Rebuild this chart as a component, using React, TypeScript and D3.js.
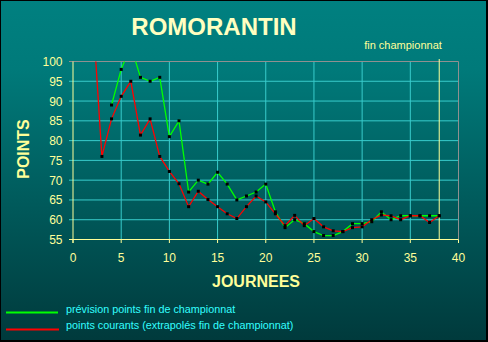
import React from "react";
import * as d3 from "d3";

const journees = d3.range(1, 39);
const prevision: (number | null)[] = [
  null, null, null, 89, 98, 104, 96, 95, 96, 81, 85, 67, 70, 69, 72, 69, 65, 66, 67, 69,
  62, 58, 60, 59, 57, 56, 56, 57, 59, 59, 59.5, 62, 60, 61, 61, 61, 61, 61,
];
const courants: (number | null)[] = [
  null, 114, 76, 85.5, 91.2, 95, 81.4, 85.5, 76, 72.2, 69.1, 63.3, 67.2, 65.1, 63.3, 61.5, 60.3, 63.3, 66, 64.5,
  61.5, 58.5, 61.1, 58.5, 60.3, 58.2, 57.2, 57, 58, 58.2, 60, 61.2, 61, 60, 61, 61, 59.3, 61,
];
const yTicks = [55, 60, 65, 70, 75, 80, 85, 90, 95, 100];
const xTicks = [0, 5, 10, 15, 20, 25, 30, 35, 40];
const finJournee = 38;
const title = "ROMORANTIN";
const legendLabels = ["prévision points fin de championnat", "points courants (extrapolés fin de championnat)"];

const W = 488, H = 342;
const x = d3.scaleLinear().domain([0, 40]).range([73, 458.5]);
const y = d3.scaleLinear().domain([55, 100]).range([239.5, 61.5]);

const FONT = "'Liberation Sans', Arial, sans-serif";
const GRID = "#38cccc";
const YEL = "#ffff99";

type Pt = { j: number; v: number };
const toPts = (arr: (number | null)[]): Pt[] =>
  journees.map((j, i) => ({ j, v: arr[i] as number })).filter((d) => d.v != null);

export default function App() {
  const line = d3.line<Pt>().x((d) => x(d.j)).y((d) => y(d.v));
  const green = toPts(prevision);
  const red = toPts(courants);
  const [x0, x1] = x.range();
  const [yb, yt] = y.range();
  return (
    <svg width={W} height={H} style={{ position: "absolute", left: 0, top: 0 }} fontFamily={FONT}>
      <defs>
        <linearGradient id="bg" x1="0" y1="0" x2="0" y2="1">
          <stop offset="0" stopColor="#008080" />
          <stop offset="0.2" stopColor="#007a7a" />
          <stop offset="1" stopColor="#003a3c" />
        </linearGradient>
        <clipPath id="plot">
          <rect x={x0} y={yt} width={x1 - x0} height={yb - yt} />
        </clipPath>
      </defs>
      <rect x={0} y={0} width={W} height={H} fill="#000" />
      <rect x={1} y={1} width={W - 3} height={H - 3} fill="url(#bg)" />

      <text x={214} y={35} fill="#ffffc0" fontSize={24} fontWeight="bold" textAnchor="middle">{title}</text>
      <text x={403} y={49} fill={YEL} fontSize={11} textAnchor="middle">fin championnat</text>

      {/* horizontal grid */}
      {yTicks.filter((t) => t !== 100 && t !== 55).map((t) => (
        <line key={"h" + t} x1={69} x2={x1} y1={y(t)} y2={y(t)} stroke={GRID} strokeWidth={1} />
      ))}
      {/* vertical grid */}
      {xTicks.filter((t) => t !== 0 && t !== 40).map((t) => (
        <line key={"v" + t} x1={x(t)} x2={x(t)} y1={yt} y2={yb} stroke={GRID} strokeWidth={1} />
      ))}
      {/* frame */}
      <line x1={69} x2={x1} y1={yt} y2={yt} stroke="#909090" strokeWidth={1} />
      <line x1={x1} x2={x1} y1={yt} y2={yb} stroke="#909090" strokeWidth={1} />
      <line x1={69} x2={x1} y1={yb} y2={yb} stroke={YEL} strokeWidth={1} />
      <line x1={x0} x2={x0} y1={yt} y2={243} stroke={YEL} strokeWidth={1} />
      {xTicks.map((t) => (
        <line key={"xt" + t} x1={x(t)} x2={x(t)} y1={yb} y2={243} stroke={YEL} strokeWidth={1} />
      ))}
      {/* fin championnat */}
      <line x1={x(finJournee)} x2={x(finJournee)} y1={59} y2={yb} stroke={YEL} strokeWidth={1} />

      {/* tick labels */}
      {yTicks.map((t) => (
        <text key={"yl" + t} x={62.5} y={y(t) + 4.5} fill={YEL} fontSize={12} textAnchor="end">{t}</text>
      ))}
      {xTicks.map((t) => (
        <text key={"xl" + t} x={x(t)} y={261.5} fill={YEL} fontSize={12} textAnchor="middle">{t}</text>
      ))}

      <text x={256} y={287} fill={YEL} fontSize={16} fontWeight="bold" textAnchor="middle">JOURNEES</text>
      <text transform="translate(28.5,149) rotate(-90)" fill={YEL} fontSize={16} fontWeight="bold" textAnchor="middle">POINTS</text>

      <g clipPath="url(#plot)">
        <path d={line(green) || ""} fill="none" stroke="#00ff00" strokeWidth={1.3} />
        <path d={line(red) || ""} fill="none" stroke="#ff0000" strokeWidth={1.3} />
        {green.map((d) => (
          <rect key={"gm" + d.j} x={x(d.j) - 1.5} y={y(d.v) - 1.5} width={3} height={3} fill="#000" />
        ))}
        {red.map((d) => (
          <rect key={"rm" + d.j} x={x(d.j) - 1.5} y={y(d.v) - 1.5} width={3} height={3} fill="#000" />
        ))}
      </g>

      {/* legend */}
      <line x1={6} x2={58} y1={312.5} y2={312.5} stroke="#00ff00" strokeWidth={2} />
      <line x1={6} x2={59} y1={329.5} y2={329.5} stroke="#ff0000" strokeWidth={2} />
      <text x={66} y={313} fill="#33ffff" fontSize={10.8}>{legendLabels[0]}</text>
      <text x={66} y={329} fill="#33ffff" fontSize={10.8}>{legendLabels[1]}</text>
    </svg>
  );
}
